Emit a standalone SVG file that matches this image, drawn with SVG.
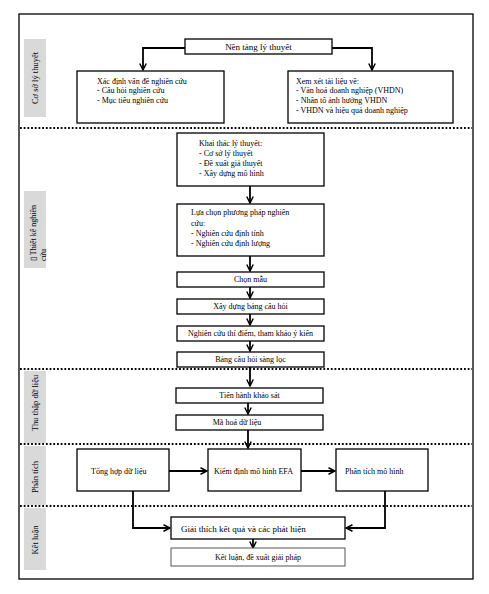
<svg xmlns="http://www.w3.org/2000/svg" width="489" height="594" viewBox="0 0 489 594">
<defs>
<style>
.frame{fill:none;stroke:#000;stroke-width:1.3}
.band{fill:#d9d9d9}
.dot{fill:none;stroke:#000;stroke-width:1.8;stroke-dasharray:1.8 1.9}
.box{fill:#fff;stroke:#000;stroke-width:1.3}
.box2{fill:#fff;stroke:#555;stroke-width:1}
.t{font-family:"Liberation Serif","Times New Roman",serif;font-size:8px;fill:#000}
.tc{font-family:"Liberation Serif","Times New Roman",serif;font-size:8px;fill:#000;text-anchor:middle}
.tl{font-family:"Liberation Serif","Times New Roman",serif;font-size:9px;fill:#000}
.side{font-family:"Liberation Serif","Times New Roman",serif;font-size:8.5px;fill:#000;text-anchor:middle}
.c{fill:none;stroke:#000;stroke-width:1.8;marker-end:url(#ah)}
</style>
<marker id="ah" viewBox="0 0 10 10" refX="9" refY="5" markerWidth="4.5" markerHeight="4.5" orient="auto" markerUnits="strokeWidth">
<path d="M1,1 L9,5 L1,9" fill="none" stroke="#000" stroke-width="1.8"/>
</marker>
</defs>
<rect width="489" height="594" fill="#fff"/>
<rect class="frame" x="19" y="14" width="454" height="565"/>

<g id="lanes">
<rect class="band" x="24" y="39" width="22" height="78"/>
<text class="side" transform="translate(38,78) rotate(-90)">Cơ sở lý thuyết</text>
<rect class="band" x="24" y="191" width="22" height="77"/>
<text class="t" font-size="8.5" transform="translate(36,261) rotate(-90)">▯ Thiết kế nghiên</text>
<text class="t" font-size="8.5" transform="translate(46,261) rotate(-90)">cứu</text>
<rect class="band" x="24" y="371" width="22" height="72"/>
<text class="side" transform="translate(38,403) rotate(-90)">Thu thập dữ liệu</text>
<rect class="band" x="24" y="446" width="22" height="59"/>
<text class="side" transform="translate(38,477) rotate(-90)">Phân tích</text>
<rect class="band" x="24" y="508" width="22" height="62"/>
<text class="side" transform="translate(38,540) rotate(-90)">Kết luận</text>
<line class="dot" x1="20" y1="128" x2="472" y2="128"/>
<line class="dot" x1="20" y1="369" x2="472" y2="369"/>
<line class="dot" x1="20" y1="444" x2="472" y2="444"/>
<line class="dot" x1="20" y1="506" x2="472" y2="506"/>
</g>

<g id="connectors">
<polyline class="c" points="185,48 143,48 143,70"/>
<polyline class="c" points="332,48 372,48 372,70"/>
<line class="c" x1="250" y1="186" x2="250" y2="203"/>
<line class="c" x1="250" y1="256" x2="250" y2="271"/>
<line class="c" x1="250" y1="287" x2="250" y2="298"/>
<line class="c" x1="250" y1="314" x2="250" y2="325"/>
<line class="c" x1="250" y1="341" x2="250" y2="351"/>
<line class="c" x1="250" y1="367" x2="250" y2="386"/>
<line class="c" x1="248" y1="403" x2="248" y2="414"/>
<line class="c" x1="248" y1="430" x2="248" y2="448"/>
<line class="c" x1="169" y1="471" x2="207" y2="471"/>
<line class="c" x1="301" y1="471" x2="335" y2="471"/>
<polyline class="c" points="133,491 133,528 170,528"/>
<polyline class="c" points="385,491 385,528 346,528"/>
<line class="c" x1="253" y1="539" x2="253" y2="548"/>
</g>

<g id="n-nentang">
<rect class="box" x="185" y="39" width="147" height="15"/>
<text class="tl" x="258.5" y="50" text-anchor="middle">Nền tảng lý thuyết</text>
</g>
<g id="n-xacdinh">
<rect class="box" x="77" y="71" width="147" height="52"/>
<text class="t" x="97" y="84">Xác định vấn đề nghiên cứu</text>
<text class="t" x="97" y="93">- Câu hỏi nghiên cứu</text>
<text class="t" x="97" y="103">- Mục tiêu nghiên cứu</text>
</g>
<g id="n-xemxet">
<rect class="box" x="288" y="71" width="165" height="52"/>
<text class="t" x="296" y="84">Xem xét tài liệu về:</text>
<text class="t" x="296" y="93">-  Văn hoá doanh nghiệp (VHDN)</text>
<text class="t" x="296" y="103">- Nhân tố ảnh hưởng VHDN</text>
<text class="t" x="296" y="113">- VHDN và hiệu quả doanh nghiệp</text>
</g>
<g id="n-khaithac">
<rect class="box" x="177" y="133" width="147" height="53"/>
<text class="t" x="199" y="146">Khai thác lý thuyết:</text>
<text class="t" x="199" y="156">- Cơ sở lý thuyết</text>
<text class="t" x="199" y="166">- Đề xuất giả thuyết</text>
<text class="t" x="199" y="176">- Xây dựng mô hình</text>
</g>
<g id="n-luachon">
<rect class="box" x="177" y="204" width="147" height="52"/>
<text class="t" x="191" y="215">Lựa chọn phương pháp nghiên</text>
<text class="t" x="191" y="226">cứu:</text>
<text class="t" x="191" y="236">- Nghiên cứu định tính</text>
<text class="t" x="191" y="246">- Nghiên cứu định lượng</text>
</g>
<g id="n-chonmau">
<rect class="box" x="177" y="272" width="147" height="15"/>
<text class="tc" x="250.5" y="282">Chọn mẫu</text>
</g>
<g id="n-xaydung">
<rect class="box" x="177" y="299" width="147" height="15"/>
<text class="tc" x="250.5" y="309">Xây dựng bảng câu hỏi</text>
</g>
<g id="n-thidiem">
<rect class="box" x="177" y="326" width="147" height="15"/>
<text class="tc" x="250.5" y="336">Nghiên cứu thí điểm, tham khảo ý kiến</text>
</g>
<g id="n-sangloc">
<rect class="box" x="177" y="352" width="147" height="15"/>
<text class="tc" x="250.5" y="362">Bảng câu hỏi sàng lọc</text>
</g>
<g id="n-khaosat">
<rect class="box" x="176" y="388" width="147" height="15"/>
<text class="tc" x="249.5" y="398">Tiến hành khảo sát</text>
</g>
<g id="n-mahoa">
<rect class="box" x="176" y="415" width="147" height="15"/>
<text class="tc" x="237" y="425">Mã hoá dữ liệu</text>
</g>
<g id="n-tonghop">
<rect class="box" x="77" y="449" width="92" height="42"/>
<text class="t" x="91" y="474">Tổng hợp dữ liệu</text>
</g>
<g id="n-kiemdinh">
<rect class="box" x="208" y="449" width="93" height="42"/>
<text class="t" x="214" y="474">Kiểm định mô hình EFA</text>
</g>
<g id="n-phantich">
<rect class="box" x="336" y="449" width="92" height="42"/>
<text class="t" x="345" y="474">Phân tích mô hình</text>
</g>
<g id="n-giaithich">
<rect class="box" x="171" y="517" width="174" height="22"/>
<text class="tl" x="181" y="532">Giải thích kết quả và các phát hiện</text>
</g>
<g id="n-ketluan">
<rect class="box2" x="171" y="548" width="174" height="18"/>
<text class="tc" x="258" y="560">Kết luận, đề xuất giải pháp</text>
</g>
</svg>
